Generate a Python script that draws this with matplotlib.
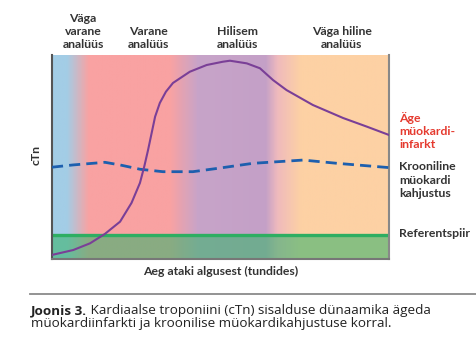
import matplotlib
matplotlib.use("Agg")
import matplotlib.pyplot as plt
import numpy as np
from matplotlib.colors import LinearSegmentedColormap
from matplotlib.lines import Line2D

# Time since onset (relative units) and cTn level (relative units)
ami_t = [0, 6.3, 11.3, 15.7, 20.2, 23.6, 26.1, 27.4, 28.5, 29.6, 30.6, 32.0,
         33.8, 35.9, 40.9, 45.9, 50.7, 52.8, 57.8, 61.7, 65.6, 69.6, 77.4,
         86.4, 93.4, 100]
ami_ctn = [2.0, 4.4, 7.7, 12.3, 18.3, 27.5, 37.3, 45.5, 53.4, 62.0, 69.8, 76.5,
           82.0, 86.3, 91.8, 95.1, 96.7, 97.2, 95.9, 93.5, 87.7, 82.8, 75.5,
           69.1, 64.9, 60.8]

chronic_t = [0, 6.2, 15.7, 20.2, 26.1, 32.9, 41.8, 49.9, 59.6, 74.5, 84.6, 100]
chronic_ctn = [45.0, 46.1, 47.4, 46.1, 44.0, 42.8, 42.8, 44.6, 46.9, 48.5, 46.9, 44.8]

reference_limit = 11.6

phase_labels = ["Väga\nvarane\nanalüüs", "Varane\nanalüüs", "Hilisem\nanalüüs",
                "Väga hiline\nanalüüs"]
phase_centers = [0.092, 0.285, 0.549, 0.86]

# background colour stops along the time axis
bg_stops = [(0.0, "#a3cde6"), (0.042, "#a3cde6"), (0.107, "#f9a2a2"),
            (0.35, "#f9a2a2"), (0.433, "#c7a4c9"), (0.635, "#c4a0c7"),
            (0.67, "#efbabd"), (0.74, "#fdd1a4"), (1.0, "#fdd1a4")]

label_font = "Lato"
caption_font = "Open Sans"

fig = plt.figure(figsize=(4.76, 3.41), dpi=100)
ax = fig.add_axes([52 / 476, 82 / 341, 337 / 476, 204 / 341])

cmap = LinearSegmentedColormap.from_list("phases", bg_stops)
grad = np.linspace(0, 1, 600).reshape(1, -1)
ax.imshow(grad, cmap=cmap, aspect="auto", extent=[0, 100, 0, 100], zorder=0)

ax.axhspan(0, reference_limit, color=(0.22, 0.70, 0.42), alpha=0.58, lw=0, zorder=1)
ax.axhline(reference_limit, color="#2eae62", lw=2.4, zorder=2)

ax.plot(chronic_t, chronic_ctn, color="#1d5fae", lw=2.0, dashes=(4, 2.2), zorder=3)
ax.plot(ami_t, ami_ctn, color="#7a3f97", lw=1.5, zorder=4)

ax.set_xlim(0, 100)
ax.set_ylim(0, 100)
ax.set_xticks([])
ax.set_yticks([])
ax.spines["top"].set_visible(False)
ax.spines["left"].set_color("#555555")
ax.spines["bottom"].set_color("#777777")
ax.spines["right"].set_color("#888888")
for s in ("left", "bottom", "right"):
    ax.spines[s].set_linewidth(1.5)

txt = dict(fontfamily=label_font, fontweight="bold", fontsize=8.8, color="#333333")

for lab, xc in zip(phase_labels, phase_centers):
    ax.text(xc, 1.024, lab, transform=ax.transAxes, ha="center", va="bottom",
            linespacing=1.25, **txt)

ax.text(1.03, 0.627, "Äge\nmüokardi-\ninfarkt", transform=ax.transAxes,
        ha="left", va="center", linespacing=1.25,
        **{**txt, "color": "#e53a2f"})
ax.text(1.03, 0.387, "Krooniline\nmüokardi\nkahjustus", transform=ax.transAxes,
        ha="left", va="center", linespacing=1.25, **txt)
ax.text(1.03, 0.123, "Referentspiir", transform=ax.transAxes,
        ha="left", va="center", **txt)

ax.text(-0.047, 0.51, "cTn", transform=ax.transAxes, rotation=90,
        ha="center", va="center", **txt)
ax.text(0.5, -0.059, "Aeg ataki algusest (tundides)", transform=ax.transAxes,
        ha="center", va="center", **txt)

# caption under a thin rule
fig.add_artist(Line2D([30 / 476, 1.0], [1 - 294 / 341] * 2, transform=fig.transFigure,
                      color="#8a8a8a", lw=1.3))
cap = dict(fontfamily=caption_font, fontsize=9.7, color="#222222")
head = fig.text(31 / 476, 1 - 314 / 341, "Joonis 3.", va="baseline", ha="left",
                fontweight="bold", **cap)
ax.annotate(" Kardiaalse troponiini (cTn) sisalduse dünaamika ägeda",
            xy=(1, 0), xycoords=head, xytext=(0, 0), textcoords="offset points",
            va="bottom", ha="left", annotation_clip=False, **cap)
fig.text(31 / 476, 1 - 327 / 341,
         "müokardiinfarkti ja kroonilise müokardikahjustuse korral.",
         va="baseline", ha="left", **cap)

fig.savefig("out.png", dpi=100)
